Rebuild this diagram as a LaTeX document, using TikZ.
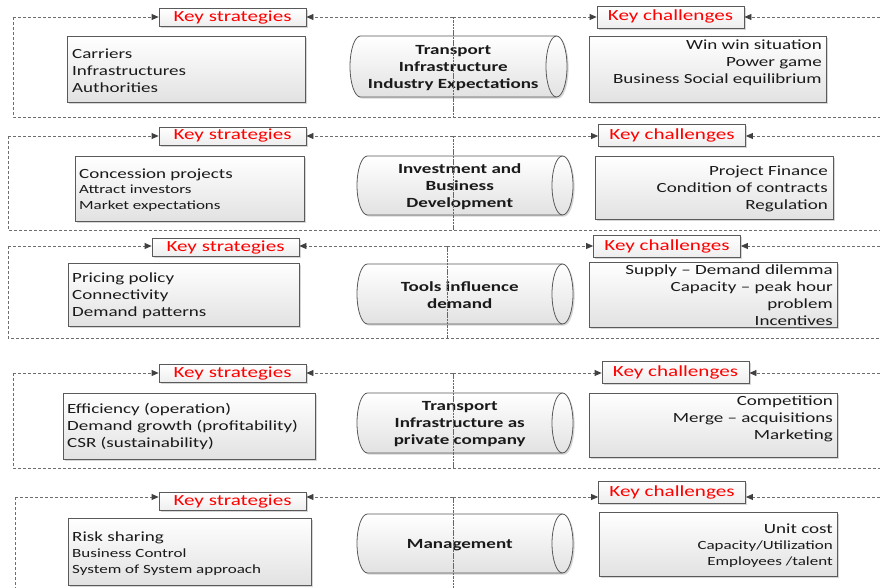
\documentclass[tikz,border=0pt]{standalone}
\usepackage{fontspec}
\setmainfont{Carlito}[FakeStretch=1.36]
\usetikzlibrary{arrows.meta,shadows}
\definecolor{frm}{HTML}{6E6E6E}
\definecolor{arr}{HTML}{404040}
\definecolor{bdr}{HTML}{5A5A5A}
\definecolor{txt}{HTML}{1A1A1A}
\definecolor{keyred}{HTML}{FF0000}
\definecolor{shd}{HTML}{E2E2E2}
\tikzset{
 dframe/.style={draw=frm, line width=0.8pt, dash pattern=on 3pt off 2pt},
 frarrow/.style={dframe, -{Triangle[length=7pt,width=6pt,color=arr,fill=arr]}},
 midline/.style={draw=arr!80, line width=0.9pt, dash pattern=on 2.5pt off 0.8pt},
 shadowed/.style={drop shadow={shadow xshift=1.6pt, shadow yshift=-1.6pt, opacity=0.35, fill=black!45}},
 keybox/.style={draw=bdr, line width=0.8pt, top color=white, bottom color=shd!60, shadowed, text=keyred, font=\fontsize{15.5}{18}\selectfont, inner sep=0pt, minimum width=147pt, text height=10.5pt, text depth=2.5pt},
 kshape/.style={keybox, minimum height=18pt},
 kcshape/.style={keybox, minimum height=22pt},
 tbox/.style={draw=bdr, line width=0.8pt, top color=white, bottom color=shd, shadowed, inner sep=0pt},
 ltext/.style={anchor=west, align=left, text=txt, inner sep=0pt, yshift=-1.5pt, font=\fontsize{14}{17}\selectfont},
 rtext/.style={anchor=east, align=right, text=txt, inner sep=0pt, yshift=-1.5pt, font=\fontsize{14}{17}\selectfont},
 cylbody/.style={draw=bdr, line width=0.8pt, top color=white, bottom color=shd, shadowed},
 cyledge/.style={draw=bdr, line width=0.8pt},
 cyltext/.style={align=center, text=txt, inner sep=0pt, yshift=-1.5pt, font=\fontsize{14}{17}\selectfont\bfseries},
}
\newcommand\mkcyl[5]{%
 \pgfmathsetmacro\cyB{(#5-#4)/2}%
 \pgfmathsetmacro\cyC{#3-10.5}%
 \pgfmathsetmacro\cyM{(#4+#5)/2}%
 \pgfmathsetmacro\cyL{#2+10.5}%
 \path[cylbody] (\cyL,#4) -- (\cyC,#4) arc[start angle=90,end angle=-90,x radius=10.5pt,y radius=\cyB pt] -- (\cyL,#5) arc[start angle=270,end angle=90,x radius=10.5pt,y radius=\cyB pt] -- cycle;
 \draw[cyledge] (\cyC,#4) arc[start angle=90,end angle=270,x radius=10.5pt,y radius=\cyB pt];
 \coordinate (#1) at ({(#2+\cyC)/2},\cyM);
}
\newcommand\mkframe[5]{%
 \coordinate (#1tl) at (#2,#3);
 \coordinate (#1tm) at (#5,#3);
 \coordinate (#1tr) at (890,#3);
 \coordinate (#1bl) at (#2,#4);
 \coordinate (#1bm) at (#5,#4);
 \coordinate (#1br) at (890,#4);
 \draw[dframe] (#1tl) -- (#1bl) -- (#1br);
 \draw[frarrow] (#1tl) -- (#1ks.west |- #1tl);
 \draw[frarrow] (#1tm) -- (#1ks.east |- #1tm);
 \draw[frarrow] (#1tm) -- (#1kc.west |- #1tm);
 \draw[frarrow] (#1tr) -- (#1kc.east |- #1tr);
 \draw[midline] (#1tm) -- (#1bm);
}
\begin{document}
\begin{tikzpicture}[x=1pt,y=-1pt]
\useasboundingbox (0,0) rectangle (880,588);
\clip (0,0) rectangle (880,588);
\fill[white] (0,0) rectangle (880,588);

% Section 1
\node[kshape] (s1ks) at (232.5,17.5) {Key strategies};
\node[kcshape] (s1kc) at (670.5,17) {Key challenges};
\node[tbox, minimum width=238pt, minimum height=66pt] (s1sb) at (186,69) {};
\node[ltext] (s1st) at (72,69) {Carriers\\Infrastructures\\Authorities};
\node[tbox, minimum width=237pt, minimum height=66pt] (s1cb) at (707.5,69) {};
\node[rtext] (s1ct) at (822,61) {Win win situation\\Power game\\Business Social equilibrium};
\mkcyl{s1cy}{350}{567}{36}{97}
\node[cyltext] (s1cyt) at (s1cy) {Transport\\Infrastructure\\Industry Expectations};

% Section 2
\node[kshape] (s2ks) at (232.5,136) {Key strategies};
\node[kcshape] (s2kc) at (672,135.5) {Key challenges};
\node[tbox, minimum width=229pt, minimum height=65pt] (s2sb) at (189.5,188.5) {};
\node[ltext, font=\fontsize{12.5}{15.5}\selectfont] (s2st) at (79,188.5) {{\fontsize{14}{15.5}\selectfont Concession projects}\\Attract investors\\Market expectations};
\node[tbox, minimum width=238pt, minimum height=63pt] (s2cb) at (714,187.5) {};
\node[rtext] (s2ct) at (828,187) {Project Finance\\Condition of contracts\\Regulation};
\mkcyl{s2cy}{357}{573}{156}{215}
\node[cyltext] (s2cyt) at (s2cy) {Investment and\\Business\\Development};

% Section 3
\node[kshape] (s3ks) at (225.5,247.5) {Key strategies};
\node[kcshape] (s3kc) at (667,246) {Key challenges};
\node[tbox, minimum width=231pt, minimum height=63pt] (s3sb) at (183.5,294.5) {};
\node[ltext] (s3st) at (72,294) {Pricing policy\\Connectivity\\Demand patterns};
\node[tbox, minimum width=248pt, minimum height=65pt] (s3cb) at (713,294.5) {};
\node[rtext] (s3ct) at (833,294) {Supply – Demand dilemma\\Capacity – peak hour\\problem\\Incentives};
\mkcyl{s3cy}{357}{573}{264}{324}
\node[cyltext] (s3cyt) at (s3cy) {Tools influence\\demand};

% Section 4
\node[kshape] (s4ks) at (232.5,373.5) {Key strategies};
\node[kcshape] (s4kc) at (675.5,372.5) {Key challenges};
\node[tbox, minimum width=252pt, minimum height=66pt] (s4sb) at (189,426) {};
\node[ltext] (s4st) at (67,425) {Efficiency (operation)\\Demand growth (profitability)\\CSR (sustainability)};
\node[tbox, minimum width=248pt, minimum height=64pt] (s4cb) at (713,425) {};
\node[rtext] (s4ct) at (833,417) {Competition\\Merge – acquisitions\\Marketing};
\mkcyl{s4cy}{357}{573}{393}{453}
\node[cyltext] (s4cyt) at (s4cy) {Transport\\Infrastructure as\\private company};

% Section 5
\node[kshape] (s5ks) at (232.5,501.5) {Key strategies};
\node[kcshape] (s5kc) at (672,492) {Key challenges};
\node[tbox, minimum width=243pt, minimum height=67pt] (s5sb) at (189.5,551.5) {};
\node[ltext, font=\fontsize{12.5}{16}\selectfont] (s5st) at (72,552) {{\fontsize{14}{16}\selectfont Risk sharing}\\Business Control\\System of System approach};
\node[tbox, minimum width=238pt, minimum height=64pt] (s5cb) at (718,544) {};
\node[rtext, font=\fontsize{12.5}{16}\selectfont] (s5ct) at (833,544) {{\fontsize{14}{16}\selectfont Unit cost}\\Capacity/Utilization\\Employees /talent};
\mkcyl{s5cy}{357}{573}{514}{573}
\node[cyltext] (s5cyt) at (s5cy) {Management};

% Frames
\mkframe{s1}{13}{17}{117}{453}
\mkframe{s2}{8}{136}{230}{453}
\mkframe{s3}{8}{246}{338}{447}
\mkframe{s4}{13}{373}{468}{453}
\mkframe{s5}{15}{497}{600}{453}
\end{tikzpicture}
\end{document}
